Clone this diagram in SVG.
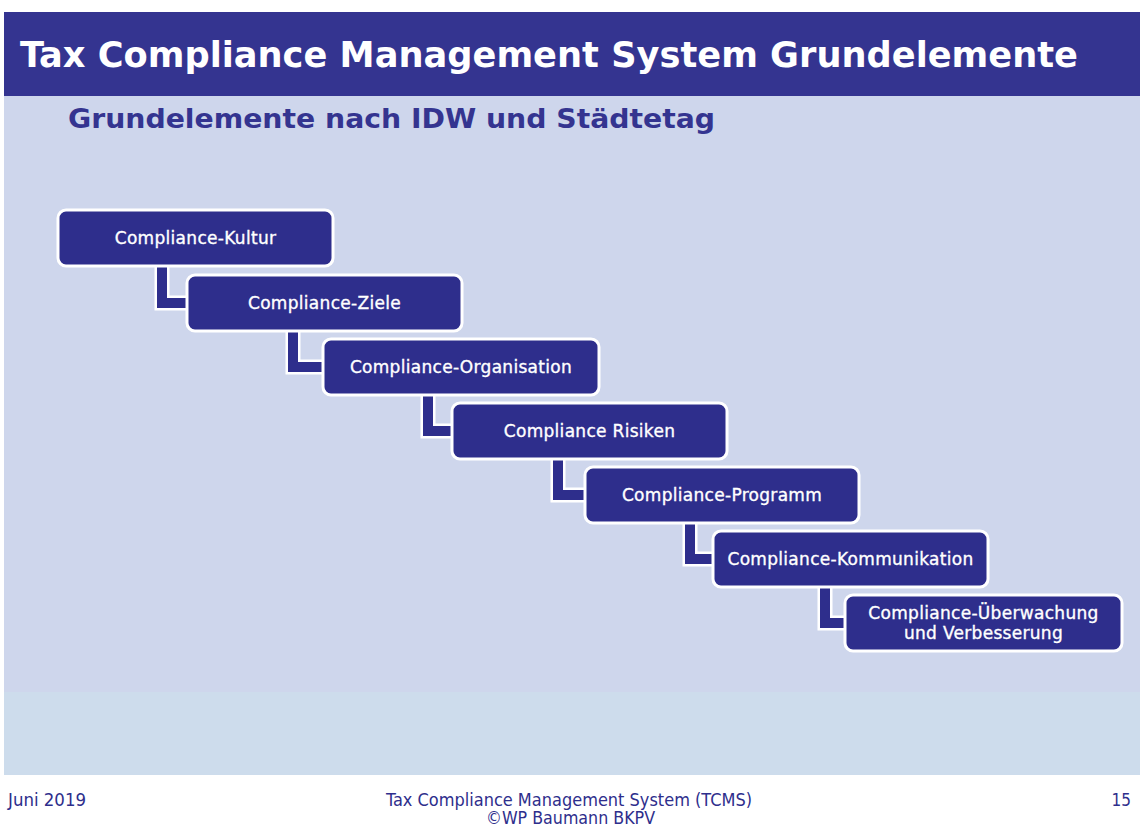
<svg xmlns="http://www.w3.org/2000/svg" width="1140" height="828" viewBox="0 0 1140 828">
<style>
.box{fill:#2e2e8c;stroke:#ffffff;stroke-width:3}
.lbl{fill:#ffffff;stroke:#ffffff;stroke-width:0.35px;font-family:"DejaVu Sans","Liberation Sans",sans-serif;font-size:17px;letter-spacing:0.3px;text-anchor:middle}
.conOut{fill:none;stroke:#ffffff;stroke-width:15;stroke-linejoin:miter;stroke-linecap:butt}
.con{fill:none;stroke:#2e2e8c;stroke-width:10;stroke-linejoin:miter;stroke-linecap:butt}
.foot{fill:#2e2e8c;font-family:"DejaVu Sans Condensed","DejaVu Sans",sans-serif;font-size:17px}
</style>
<rect x="0" y="0" width="1140" height="828" fill="#ffffff"/>
<rect x="4" y="96" width="1136" height="596" fill="#ced6ec"/>
<rect x="4" y="692" width="1136" height="83" fill="#cddcec"/>
<rect x="4" y="12" width="1136" height="84" fill="#343490"/>
<text x="20" y="67" fill="#ffffff" font-family="'DejaVu Sans Condensed','DejaVu Sans',sans-serif" font-weight="bold" font-size="36" textLength="1058" lengthAdjust="spacingAndGlyphs">Tax Compliance Management System Grundelemente</text>
<text x="68" y="128" fill="#343490" font-family="'DejaVu Sans Condensed','DejaVu Sans',sans-serif" font-weight="bold" font-size="27" textLength="647" lengthAdjust="spacingAndGlyphs">Grundelemente nach IDW und Städtetag</text>

<g id="connectors">
<path class="conOut" d="M162 266 V303 H190"/>
<path class="con" d="M162 266 V303 H190"/>
<path class="conOut" d="M293 330 V367 H325"/>
<path class="con" d="M293 330 V367 H325"/>
<path class="conOut" d="M428 394 V431 H455"/>
<path class="con" d="M428 394 V431 H455"/>
<path class="conOut" d="M558 458 V495 H587"/>
<path class="con" d="M558 458 V495 H587"/>
<path class="conOut" d="M690 522 V559 H716"/>
<path class="con" d="M690 522 V559 H716"/>
<path class="conOut" d="M825 586 V623 H848"/>
<path class="con" d="M825 586 V623 H848"/>
</g>

<g id="n1"><rect class="box" x="58" y="210" width="275" height="56" rx="8"/><text class="lbl" x="195.5" y="244">Compliance-Kultur</text></g>
<g id="n2"><rect class="box" x="187" y="275" width="275" height="56" rx="8"/><text class="lbl" x="324.5" y="309">Compliance-Ziele</text></g>
<g id="n3"><rect class="box" x="323" y="339" width="276" height="56" rx="8"/><text class="lbl" x="461" y="373">Compliance-Organisation</text></g>
<g id="n4"><rect class="box" x="452" y="403" width="275" height="56" rx="8"/><text class="lbl" x="589.5" y="437">Compliance Risiken</text></g>
<g id="n5"><rect class="box" x="585" y="467" width="274" height="56" rx="8"/><text class="lbl" x="722" y="501">Compliance-Programm</text></g>
<g id="n6"><rect class="box" x="713" y="531" width="275" height="56" rx="8"/><text class="lbl" x="850.5" y="565">Compliance-Kommunikation</text></g>
<g id="n7"><rect class="box" x="845" y="595" width="277" height="56" rx="8"/><text class="lbl" x="983.5" y="619">Compliance-Überwachung</text><text class="lbl" x="983.5" y="639">und Verbesserung</text></g>

<text class="foot" x="8" y="806" textLength="78" lengthAdjust="spacingAndGlyphs">Juni 2019</text>
<text class="foot" x="386" y="806" textLength="366" lengthAdjust="spacingAndGlyphs">Tax Compliance Management System (TCMS)</text>
<text class="foot" x="486" y="824" textLength="169" lengthAdjust="spacingAndGlyphs">©WP Baumann BKPV</text>
<text class="foot" x="1131" y="806" text-anchor="end">15</text>
</svg>
